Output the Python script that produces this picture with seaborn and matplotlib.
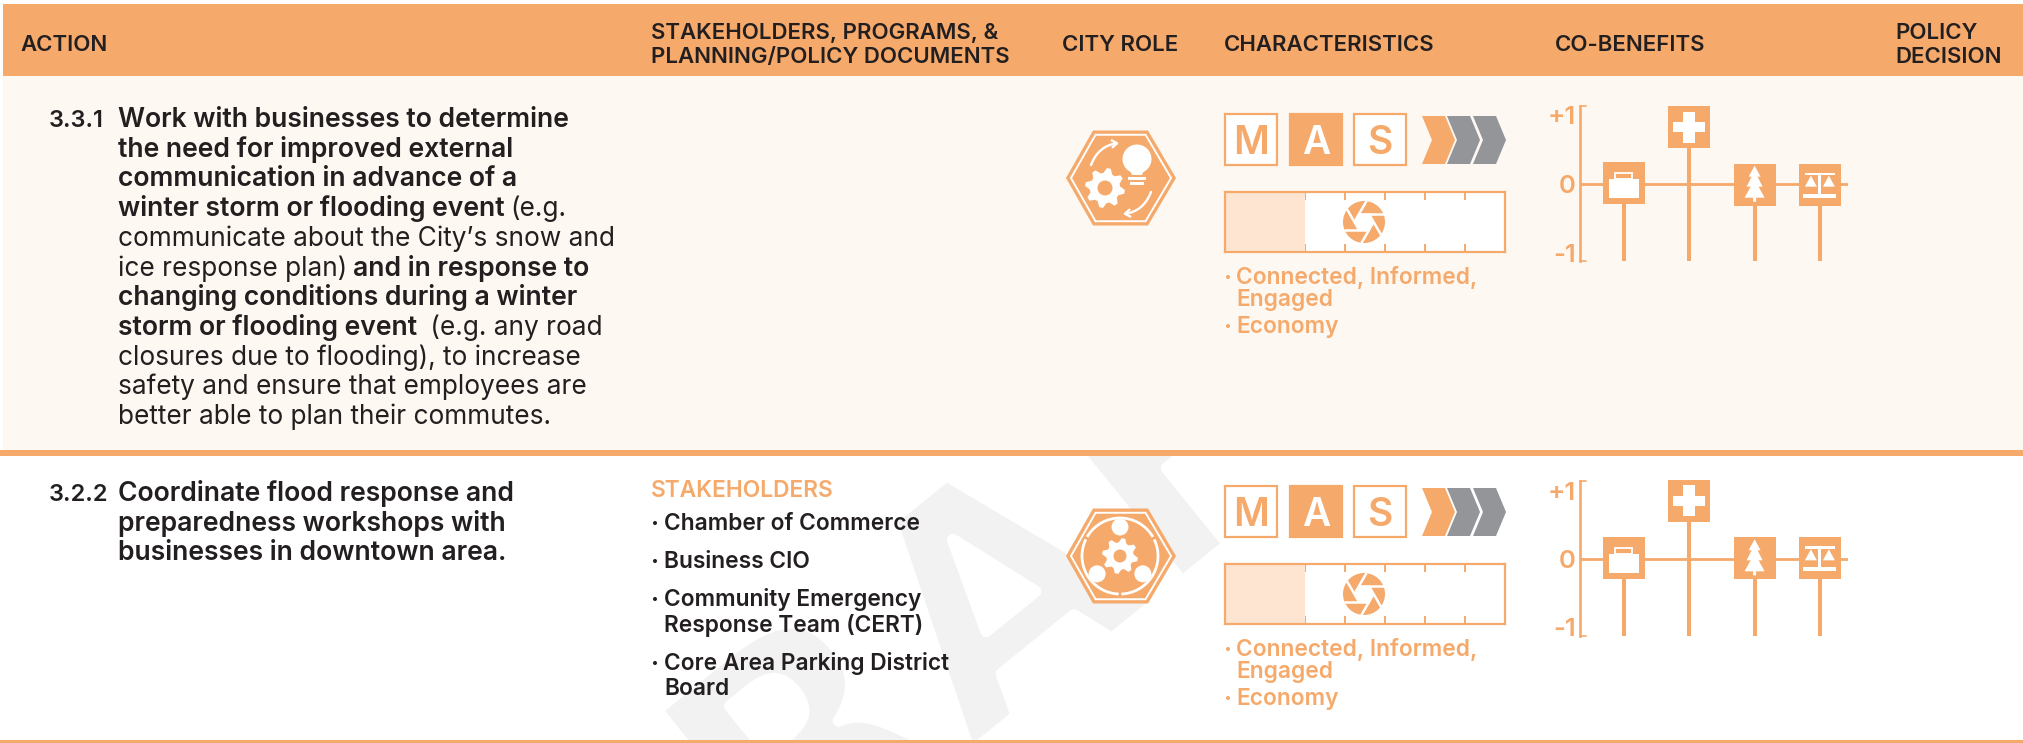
import numpy as np, pandas as pd, matplotlib
matplotlib.use("Agg")
import matplotlib.pyplot as plt
import seaborn as sns
import matplotlib.patheffects as pe
from matplotlib.patches import Polygon, Rectangle, Circle, FancyArrowPatch
from matplotlib.textpath import TextPath
from matplotlib.font_manager import FontProperties

# ---------- data ----------
header_single = ["ACTION", "CITY ROLE", "CHARACTERISTICS", "CO-BENEFITS"]
header_double = [["STAKEHOLDERS, PROGRAMS, &", "PLANNING/POLICY DOCUMENTS"], ["POLICY", "DECISION"]]
action_ids = ["3.3.1", "3.2.2"]
action1_lines = [
    [("Work with businesses to determine", "b")],
    [("the need for improved external", "b")],
    [("communication in advance of a", "b")],
    [("winter storm or flooding event", "b"), ("(e.g.", "r")],
    [("communicate about the City\u2019s snow and", "r")],
    [("ice response plan)", "r"), ("and in response to", "b")],
    [("changing conditions during a winter", "b")],
    [("storm or flooding event", "b"), (" (e.g. any road", "r")],
    [("closures due to flooding), to increase", "r")],
    [("safety and ensure that employees are", "r")],
    [("better able to plan their commutes.", "r")],
]
action2_lines = ["Coordinate flood response and", "preparedness workshops with", "businesses in downtown area."]
stake_title = "STAKEHOLDERS"
stakeholders = [["Chamber of Commerce"], ["Business CIO"],
                ["Community Emergency", "Response Team (CERT)"],
                ["Core Area Parking District", "Board"]]
mas_letters = ["M", "A", "S"]
mas_active = "A"
timeframe_segments = 7
timeframe_filled = 2
traits = [["Connected, Informed,", "Engaged"], ["Economy"]]
cobenefit_names = ["Economy", "Health", "Environment", "Equity"]
cobenefit_row1 = [0.01, 0.83, -0.01, -0.01]
cobenefit_row2 = [0.01, 0.85, 0.01, 0.01]
watermark = "DRAFT"

# ---------- style ----------
W, H = 2023, 743
OR = "#F5A96B"; LIGHT = "#FDE5D2"; BG = "#FEF8F2"; GREY = "#939598"; INK = "#231F20"; WM = "#F2F2F2"
sns.set_theme(style="white")
FONT = ["Inter", "DejaVu Sans"]
plt.rcParams["font.family"] = FONT

fig = plt.figure(figsize=(W/100, H/100), dpi=100, facecolor="white")
def pxaxes(z):
    a = fig.add_axes([0, 0, 1, 1], zorder=z, facecolor="none")
    a.set_xlim(0, W); a.set_ylim(H, 0); a.axis("off")
    return a
bg = pxaxes(0); top = pxaxes(5)
PT = 0.72  # px to pt

def rect(a, x0, y0, x1, y1, fc, z=2, **k):
    a.add_patch(Rectangle((x0, y0), x1-x0, y1-y0, facecolor=fc, edgecolor=k.pop("ec", "none"), zorder=z, **k))

# watermark: a bold face thinned by a white outline, placed by the A's left foot
wm_fp = FontProperties(family="DejaVu Sans", weight="bold")
wm_inset = 6
wm_em = (219 + 2*wm_inset) / TextPath((0, 0), "D", size=1, prop=wm_fp).get_extents().height
wm_d = TextPath((0, 0), "DRA", size=wm_em, prop=wm_fp).get_extents().x1 - TextPath((0, 0), "A", size=wm_em, prop=wm_fp).get_extents().width
ang = np.radians(39)
bg.text(971 - (wm_d + wm_inset)*np.cos(ang) + wm_inset*np.sin(ang),
        745 + (wm_d + wm_inset)*np.sin(ang) + wm_inset*np.cos(ang),
        watermark, color=WM, fontproperties=wm_fp, fontsize=wm_em*PT,
        rotation=39, rotation_mode="anchor", ha="left", va="baseline", zorder=1, clip_on=False,
        path_effects=[pe.Stroke(linewidth=2*wm_inset*PT, foreground="white")])
rect(bg, 0, 0, W, 4, "white")
rect(bg, 3, 4, W, 76, OR)
rect(bg, 3, 76, W, 450, BG)
rect(bg, 0, 450, W, 456, OR)
rect(bg, 0, 740, W, 743, OR)

def T(x, y, s, weight="semibold", size=13.5, color=INK, **k):
    return top.text(x, y, s, fontweight=weight, fontsize=size, color=color, va="baseline", ha=k.pop("ha", "left"), zorder=10, **k)

def bullet(x, y, color, size):
    top.add_patch(Circle((x, y), size, fc=color, ec="none", zorder=10))

# header
HS = 16
for s, x in zip(header_single, [20, 1062, 1224, 1555]):
    T(x, 51, s, size=HS)
for (a, b), x in zip(header_double, [651, 1895]):
    T(x, 39, a, size=HS); T(x, 63, b, size=HS)

# action text
BS = 19.1; RS = 18.9; NS = 17
fig.canvas.draw()
rend = fig.canvas.get_renderer()
T(49, 127, action_ids[0], size=NS)
for i, runs in enumerate(action1_lines):
    y = 127 + i*29.7; x = 118
    for s, st in runs:
        t = T(x, y, s, weight="semibold" if st == "b" else "normal", size=BS if st == "b" else RS)
        x = t.get_window_extent(rend).x1 + 6
T(49, 501, action_ids[1], size=NS)
for i, s in enumerate(action2_lines):
    T(118, 501 + i*29.7, s, size=BS)

# stakeholders
SS = 16.4
T(651, 497, stake_title, weight="semibold", size=SS, color=OR)
ys = [[530], [568], [606, 632], [670, 695]]
for lines, yy in zip(stakeholders, ys):
    bullet(655, yy[0]-7, INK, 2)
    for s, y in zip(lines, yy):
        T(664, y, s, size=SS)

# role hexagons + icons
def hexagon(cy):
    cx = 1121
    v = np.array([(-55, 0), (-28, -47.5), (27, -47.5), (55, 0), (27, 47.5), (-28, 47.5)])
    top.add_patch(Polygon(v + (cx, cy), closed=True, fc=OR, ec="none", zorder=3))
    top.add_patch(Polygon(v*0.91 + (cx, cy), closed=True, fc="none", ec="white", lw=1.4, zorder=4))

def gear(cx, cy, r, hole, n=8):
    ang = np.linspace(0, 2*np.pi, n*4, endpoint=False) + np.pi/n/4
    rad = np.tile([r, r, r*0.76, r*0.76], n)
    top.add_patch(Polygon(np.c_[cx + rad*np.cos(ang), cy + rad*np.sin(ang)], closed=True, fc="white", ec="none", zorder=5))
    top.add_patch(Circle((cx, cy), hole, fc=OR, ec="none", zorder=6))

hexagon(178)
gear(1105, 188, 20, 7.5)
top.add_patch(Circle((1137, 159), 14.5, fc="white", ec="none", zorder=5))
top.add_patch(Polygon([(1129, 168), (1145, 168), (1142, 175), (1132, 175)], closed=True, fc="white", ec="none", zorder=5))
rect(top, 1128, 177, 1146, 180, "white", z=5); rect(top, 1130, 182, 1144, 184.5, "white", z=5)
for p, q, rad in [((1091, 165), (1119, 143), -0.3), ((1151, 192), (1123, 214), -0.3)]:
    top.add_patch(FancyArrowPatch(p, q, connectionstyle=f"arc3,rad={rad}", arrowstyle="->,head_length=3.5,head_width=2.5",
                                  color="white", lw=1.7, zorder=5, shrinkA=0, shrinkB=0))
hexagon(556)
ring = 38
for a0, a1 in [(-90, -30), (-26, 88), (92, 206), (210, 270)]:
    th = np.radians(np.linspace(a0, a1, 40))
    top.plot(1120 + ring*np.cos(th), 556 + ring*np.sin(th), color="white", lw=2, zorder=5, solid_capstyle="butt")
for a in (-90, 38, 142):
    top.add_patch(Circle((1120 + 29*np.cos(np.radians(a)), 556 + 29*np.sin(np.radians(a))), 8.5, fc="white", ec="none", zorder=6))
gear(1120, 556, 18, 6.5)

# characteristics
def mas(dy):
    for letter, x0 in zip(mas_letters, [1224, 1289, 1353]):
        on = letter == mas_active
        rect(top, x0+1, 114+dy, x0+53, 165+dy, OR if on else "white", z=4, ec=OR, lw=1.6)
        T(x0+27, 154+dy, letter, weight="semibold", size=28, color="white" if on else OR, ha="center")
    pts = [(0, 0), (23, 0), (33, 24), (23, 48), (0, 48), (10, 24)]
    for x0, c in zip([1422, 1447, 1473], [OR, GREY, GREY]):
        top.add_patch(Polygon(np.array(pts) + (x0, 116+dy), closed=True, fc=c, ec="none", zorder=4))

def aperture(cx, cy, r=21):
    top.add_patch(Circle((cx, cy), r, fc=OR, ec="none", zorder=5))
    rin = 9.6
    angs = np.radians(np.arange(0, 360, 60))
    v = np.c_[cx + rin*np.cos(angs), cy + rin*np.sin(angs)]
    top.add_patch(Polygon(v, closed=True, fc="white", ec="none", zorder=6))
    for k in range(6):
        a, b = v[k], v[(k+1) % 6]
        d = (b-a)/np.linalg.norm(b-a); m = (a+b)/2
        s, e = m - d*5, m + d*19.6
        top.plot([s[0], e[0]], [s[1], e[1]], color="white", lw=1.8, zorder=6, solid_capstyle="butt")

def gauge(dy):
    g = fig.add_axes([1225/W, 1-(252+dy)/H, 280/W, 60/H], zorder=3, facecolor="white")
    sns.barplot(x=[timeframe_filled], y=["timeframe"], color=LIGHT, width=1, saturation=1, linewidth=0, ax=g)
    g.set_xlim(0, timeframe_segments); g.set_ylim(0.5, -0.5); g.set_yticks([]); g.set_xlabel(""); g.set_ylabel("")
    g.set_xticks(range(1, timeframe_segments)); g.set_xticklabels([])
    g.tick_params(axis="x", which="both", direction="in", top=True, bottom=True, length=5.5, width=1.4, color=OR)
    for sp in g.spines.values():
        sp.set_visible(True); sp.set_color(OR); sp.set_linewidth(1.6)
    aperture(1364, 222+dy)

def trait_list(dy):
    FS = 16.4
    bullet(1228, 277+dy, OR, 2)
    T(1236, 284+dy, traits[0][0], weight="semibold", size=FS, color=OR)
    T(1236, 306+dy, traits[0][1], weight="semibold", size=FS, color=OR)
    bullet(1228, 326+dy, OR, 2)
    T(1236, 333+dy, traits[1][0], weight="semibold", size=FS, color=OR)

for d in (0, 372):
    mas(d); gauge(d); trait_list(d)

# co-benefits
def briefcase(cx, cy):
    rect(top, cx-15, cy-4, cx+15, cy+15, "white", z=6)
    top.add_patch(Rectangle((cx-8.5, cy-10.5), 17, 6.5, fc="none", ec="white", lw=1.3, zorder=6))
def cross(cx, cy):
    rect(top, cx-16, cy-5, cx+16, cy+5, "white", z=6)
    rect(top, cx-6, cy-15.5, cx+6, cy+15.5, "white", z=6)
def tree(cx, cy):
    half = [(0, -19), (6, -8), (3, -8), (8, 2), (4, 2), (10, 13), (1.5, 13), (1.5, 17)]
    pts = half + [(-x, y) for x, y in half[::-1]]
    top.add_patch(Polygon(np.array(pts) + (cx, cy), closed=True, fc="white", ec="none", zorder=6))
def scales(cx, cy):
    rect(top, cx-15, cy-12, cx+15, cy-9.5, "white", z=6)
    rect(top, cx-1.5, cy-12, cx+1.5, cy+10, "white", z=6)
    rect(top, cx-17, cy+9, cx+16, cy+13, "white", z=6)
    for sx in (-9, 9):
        top.add_patch(Polygon([(cx+sx, cy-9), (cx+sx-6, cy+2), (cx+sx+6, cy+2)], closed=True, fc="white", ec="none", zorder=6))
icons = [briefcase, cross, tree, scales]

def cobenefits(vals, dy):
    c = fig.add_axes([1580/W, 1-(261+dy)/H, 268/W, 155/H], zorder=3, facecolor="none")
    df = pd.DataFrame({"benefit": cobenefit_names, "score": vals})
    c.axhline(0, color=OR, lw=2, zorder=1)
    sns.scatterplot(data=df, x="benefit", y="score", marker="s", s=(42*PT)**2, color=OR, linewidth=0, zorder=3, ax=c, clip_on=False)
    c.set_ylim(-77/68.5, 78/68.5)
    c.vlines(df["benefit"], df["score"], c.get_ylim()[0], color=OR, lw=2.9, zorder=2)
    c.set_xlim(-44/65.3, 224/65.3)
    c.set_xticks([]); c.set_xlabel(""); c.set_ylabel("")
    c.set_yticks([1, 0, -1]); c.set_yticklabels(["+1", "0", "-1"])
    c.tick_params(axis="y", length=0, pad=3.2, labelcolor=OR, labelsize=18.5)
    for lab in c.get_yticklabels():
        lab.set_fontweight("semibold")
    for n, sp in c.spines.items():
        sp.set_visible(n == "left"); sp.set_color(OR); sp.set_linewidth(1.9)
    for yy in (0, 1):
        c.plot([0, 0.022], [yy, yy], transform=c.transAxes, color=OR, lw=1.2, clip_on=False, zorder=2)
    fig.canvas.draw()
    for i, ic in enumerate(icons):
        px, py = c.transData.transform((i, vals[i]))
        ic(px, H - py)

cobenefits(cobenefit_row1, 0)
cobenefits(cobenefit_row2, 375)

fig.savefig("out.png", dpi=100, facecolor="white")
